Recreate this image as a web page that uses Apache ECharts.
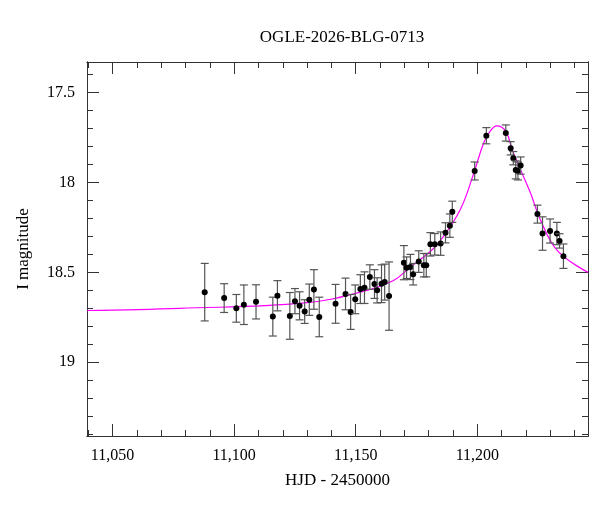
<!DOCTYPE html>
<html>
<head>
  <meta charset="utf-8">
  <title>OGLE-2026-BLG-0713</title>
  <script src="https://cdn.jsdelivr.net/npm/echarts@6/dist/echarts.min.js"></script>
  <style>html,body{margin:0;background:#fff}#main{width:600px;height:512px}</style>
</head>
<body>
<div id="main"></div>
<script type="text/javascript">
var myChart = echarts.init(document.getElementById('main'));

// observations: HJD-2450000, I magnitude, error
var obsT = [11087.9, 11095.9, 11100.9, 11104, 11109, 11115.9, 11117.8, 11122.9, 11125, 11126.9,
  11129, 11130.9, 11132.8, 11135, 11141.7, 11145.8, 11147.9, 11149.8, 11151.9, 11153.6,
  11155.8, 11157.7, 11158.8, 11160.6, 11161.9, 11163.7, 11169.8, 11170.9, 11172.5, 11173.6,
  11175.9, 11178, 11179, 11180.7, 11182.5, 11184.9, 11186.9, 11188.7, 11189.7, 11198.9,
  11203.7, 11211.7, 11213.7, 11214.8, 11215.8, 11216.7, 11217.8, 11224.7, 11226.8, 11229.9,
  11232.7, 11233.8, 11235.4];
var obsMag = [18.61, 18.643, 18.70, 18.68, 18.664, 18.746, 18.63, 18.742, 18.66, 18.686,
  18.718, 18.652, 18.595, 18.748, 18.675, 18.62, 18.72, 18.65, 18.593, 18.585,
  18.526, 18.565, 18.60, 18.563, 18.554, 18.632, 18.446, 18.474, 18.47, 18.51,
  18.44, 18.46, 18.46, 18.344, 18.344, 18.34, 18.28, 18.24, 18.163, 17.936,
  17.74, 17.725, 17.81, 17.865, 17.93, 17.936, 17.906, 18.176, 18.284, 18.27,
  18.284, 18.325, 18.41];
var obsErr = [0.16, 0.08, 0.077, 0.11, 0.095, 0.108, 0.084, 0.13, 0.07, 0.078,
  0.066, 0.087, 0.11, 0.11, 0.108, 0.088, 0.097, 0.08, 0.08, 0.088,
  0.068, 0.08, 0.07, 0.105, 0.1, 0.19, 0.095, 0.06, 0.07, 0.06,
  0.06, 0.065, 0.065, 0.065, 0.06, 0.065, 0.056, 0.065, 0.059, 0.05,
  0.045, 0.045, 0.037, 0.037, 0.05, 0.05, 0.048, 0.05, 0.093, 0.067,
  0.062, 0.04, 0.068];

// model curve
var modelT = [11039.5, 11077.7, 11129, 11152, 11165.5, 11172.5, 11181, 11185, 11193, 11198.5,
  11202.6, 11205.5, 11208, 11211.7, 11214.4, 11217.8, 11221.9, 11226, 11233, 11245.5];
var modelMag = [18.712, 18.70, 18.67, 18.61, 18.545, 18.47, 18.38, 18.32, 18.15, 17.95,
  17.78, 17.71, 17.685, 17.715, 17.82, 17.93, 18.06, 18.21, 18.38, 18.5];

var xMajor = [11050, 11100, 11150, 11200];
var xMinor = [11040, 11060, 11070, 11080, 11090, 11110, 11120, 11130, 11140, 11160, 11170, 11180, 11190, 11210, 11220, 11230, 11240];
var yMajor = [17.5, 18, 18.5, 19];
var yMinor = [17.4, 17.6, 17.7, 17.8, 17.9, 18.1, 18.2, 18.3, 18.4, 18.6, 18.7, 18.8, 18.9, 19.1, 19.2, 19.3, 19.4];

var font = '"Liberation Serif", "DejaVu Serif", serif';
var xMin = 11039.5, xMax = 11245.5, yMin = 17.33, yMax = 19.41;
var lineCol = '#333';

function xAxis(pos, ticks, len, labels) {
  return {
    type: 'value', position: pos, min: xMin, max: xMax,
    name: labels ? 'HJD - 2450000' : '', nameLocation: 'middle', nameGap: 36,
    nameTextStyle: { fontFamily: font, fontSize: 17, color: '#000' },
    axisLine: { show: true, onZero: false, lineStyle: { color: lineCol, width: 1 } },
    axisTick: { show: true, inside: true, length: len, customValues: ticks, lineStyle: { color: lineCol } },
    axisLabel: { show: labels, customValues: ticks, fontFamily: font, fontSize: 16, color: '#000', margin: 12 },
    splitLine: { show: false }
  };
}
function yAxis(pos, ticks, len, labels) {
  return {
    type: 'value', position: pos, min: yMin, max: yMax, inverse: true,
    name: labels ? 'I magnitude' : '', nameLocation: 'middle', nameGap: 55,
    nameTextStyle: { fontFamily: font, fontSize: 17, color: '#000' },
    axisLine: { show: true, onZero: false, lineStyle: { color: lineCol, width: 1 } },
    axisTick: { show: true, inside: true, length: len, customValues: ticks, lineStyle: { color: lineCol } },
    axisLabel: { show: labels, customValues: ticks, fontFamily: font, fontSize: 16, color: '#000', margin: 12,
      formatter: function (v) { return String(Math.round(v * 10) / 10); } },
    splitLine: { show: false }
  };
}

var points = obsT.map(function (t, i) { return [t, obsMag[i], obsErr[i]]; });
var model = modelT.map(function (t, i) { return [t, modelMag[i]]; });

var option = {
  backgroundColor: '#fff',
  animation: false,
  title: {
    text: 'OGLE-2026-BLG-0713', left: 337, top: 24, textAlign: 'center',
    textStyle: { fontFamily: font, fontSize: 17, fontWeight: 'normal', color: '#000' }
  },
  grid: { left: 87, right: 12, top: 62, bottom: 76 },
  xAxis: [
    xAxis('bottom', xMajor, 12, true),
    xAxis('bottom', xMinor, 6, false),
    xAxis('top', xMajor, 12, false),
    xAxis('top', xMinor, 6, false)
  ],
  yAxis: [
    yAxis('left', yMajor, 12, true),
    yAxis('left', yMinor, 6, false),
    yAxis('right', yMajor, 12, false),
    yAxis('right', yMinor, 6, false)
  ],
  series: [
    {
      type: 'line', data: model, smooth: 0.4, showSymbol: false,
      lineStyle: { color: '#ff00ff', width: 1.2 }, z: 2
    },
    {
      type: 'custom', data: points, z: 3,
      renderItem: function (params, api) {
        var t = api.value(0), m = api.value(1), e = api.value(2);
        var top = api.coord([t, m - e]), bot = api.coord([t, m + e]);
        var c = api.coord([t, m]);
        var w = 4;
        var st = { stroke: '#555', lineWidth: 1.2 };
        return {
          type: 'group', children: [
            { type: 'line', shape: { x1: top[0], y1: top[1], x2: bot[0], y2: bot[1] }, style: st },
            { type: 'line', shape: { x1: top[0] - w, y1: top[1], x2: top[0] + w, y2: top[1] }, style: st },
            { type: 'line', shape: { x1: bot[0] - w, y1: bot[1], x2: bot[0] + w, y2: bot[1] }, style: st },
            { type: 'circle', shape: { cx: c[0], cy: c[1], r: 3 }, style: { fill: '#000' } }
          ]
        };
      }
    }
  ]
};

myChart.setOption(option);
</script>
</body>
</html>
